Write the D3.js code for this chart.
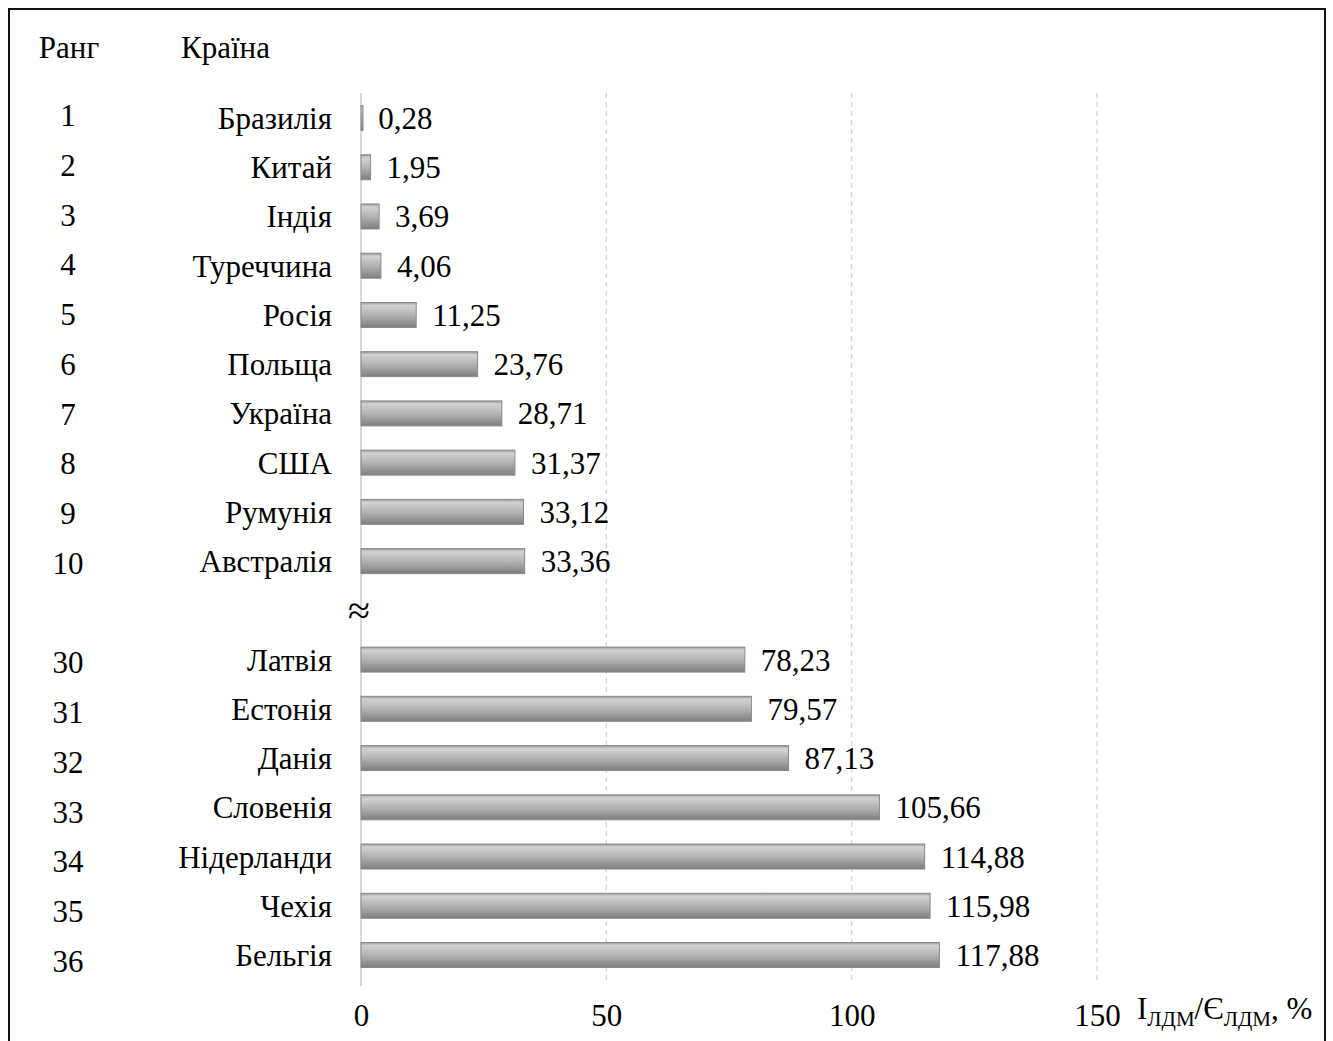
<!DOCTYPE html>
<html>
<head>
<meta charset="utf-8">
<script src="https://cdn.jsdelivr.net/npm/d3@7"></script>
<style>
  html, body { margin: 0; padding: 0; background: #fff; }
  svg { display: block; }
  svg text { font-family: 'Liberation Serif', 'Times New Roman', serif; }
  .lbl { font-size: 31px; fill: #000; }
</style>
</head>
<body>
<svg id="chart"></svg>
<script>
const ranks = [1, 2, 3, 4, 5, 6, 7, 8, 9, 10, null, 30, 31, 32, 33, 34, 35, 36];
const countries = ['Бразилія', 'Китай', 'Індія', 'Туреччина', 'Росія', 'Польща', 'Україна', 'США', 'Румунія', 'Австралія',
  null, 'Латвія', 'Естонія', 'Данія', 'Словенія', 'Нідерланди', 'Чехія', 'Бельгія'];
const values = [0.28, 1.95, 3.69, 4.06, 11.25, 23.76, 28.71, 31.37, 33.12, 33.36,
  null, 78.23, 79.57, 87.13, 105.66, 114.88, 115.98, 117.88];
const xTicks = [0, 50, 100, 150];

const width = 1333;
const height = 1041;

const svg = d3.select('#chart')
  .attr('width', width)
  .attr('height', height);

const slots = ranks.map((r, i) => i);
const rows = slots
  .filter(i => values[i] !== null)
  .map(i => ({ slot: i, rank: ranks[i], country: countries[i], value: values[i] }));

const x = d3.scaleLinear()
  .domain([0, 150])
  .range([361, 1097]);

// row centres for bars / country names
const y = d3.scalePoint()
  .domain(slots)
  .range([118, 955]);

// rank column sits on a slightly wider spacing
const yRank = d3.scalePoint()
  .domain(slots)
  .range([116, 962]);

const barH = 25;
const fmt = v => d3.format('.2f')(v).replace('.', ',');

// gradient for bars
const defs = svg.append('defs');
const grad = defs.append('linearGradient')
  .attr('id', 'barGrad')
  .attr('x1', 0).attr('y1', 0)
  .attr('x2', 0).attr('y2', 1);
grad.append('stop').attr('offset', '0%').attr('stop-color', '#9a9a9a');
grad.append('stop').attr('offset', '12%').attr('stop-color', '#d2d2d2');
grad.append('stop').attr('offset', '50%').attr('stop-color', '#b4b4b4');
grad.append('stop').attr('offset', '100%').attr('stop-color', '#7e7e7e');

// frame
svg.append('rect')
  .attr('x', 9)
  .attr('y', 9)
  .attr('width', 1316)
  .attr('height', 1060)
  .attr('fill', 'none')
  .attr('stroke', '#111')
  .attr('stroke-width', 2);

// grid lines
const gridTop = 93;
const gridBottom = 982;
svg.append('g')
  .selectAll('line')
  .data(xTicks.filter(d => d > 0))
  .enter().append('line')
    .attr('x1', d => x(d))
    .attr('x2', d => x(d))
    .attr('y1', gridTop)
    .attr('y2', gridBottom)
    .attr('stroke', '#d4d4d4')
    .attr('stroke-width', 1.3)
    .attr('stroke-dasharray', '5,4');

// zero axis line
svg.append('line')
  .attr('x1', x(0))
  .attr('x2', x(0))
  .attr('y1', gridTop)
  .attr('y2', gridBottom + 4)
  .attr('stroke', '#d9d9d9')
  .attr('stroke-width', 2);

// x axis labels
const xAxis = d3.axisBottom(x)
  .tickValues(xTicks)
  .tickSize(0)
  .tickPadding(0)
  .tickFormat(d3.format('d'));

const gx = svg.append('g')
  .attr('transform', 'translate(0, 1026)')
  .call(xAxis)
  .attr('font-family', null)
  .attr('font-size', null);
gx.select('.domain').remove();
gx.selectAll('text')
  .attr('class', 'lbl')
  .attr('fill', '#000')
  .attr('y', 0)
  .attr('dy', null);

// axis title with subscripts
const title = svg.append('text')
  .attr('class', 'lbl')
  .attr('x', 1137)
  .attr('y', 1019);
title.append('tspan').text('I');
title.append('tspan').attr('font-size', 21).attr('dy', 7).text('ЛДМ');
title.append('tspan').attr('dy', -7).text('/Є');
title.append('tspan').attr('font-size', 21).attr('dy', 7).text('ЛДМ');
title.append('tspan').attr('dy', -7).text(', %');

// headers
svg.append('text')
  .attr('class', 'lbl')
  .attr('x', 69)
  .attr('y', 58)
  .attr('text-anchor', 'middle')
  .text('Ранг');
svg.append('text')
  .attr('class', 'lbl')
  .attr('x', 181)
  .attr('y', 58)
  .text('Країна');

// bars
svg.append('g')
  .selectAll('rect')
  .data(rows)
  .enter().append('rect')
    .attr('x', x(0))
    .attr('y', d => y(d.slot) - barH / 2)
    .attr('width', d => Math.max(x(d.value) - x(0), 2))
    .attr('height', barH)
    .attr('fill', 'url(#barGrad)')
    .attr('stroke', '#8a8a8a')
    .attr('stroke-width', 1);

// value labels
svg.append('g')
  .selectAll('text')
  .data(rows)
  .enter().append('text')
    .attr('class', 'lbl')
    .attr('x', d => x(d.value) + 16)
    .attr('y', d => y(d.slot) + 11)
    .text(d => fmt(d.value));

// country labels
svg.append('g')
  .selectAll('text')
  .data(rows)
  .enter().append('text')
    .attr('class', 'lbl')
    .attr('x', 332)
    .attr('y', d => y(d.slot) + 11)
    .attr('text-anchor', 'end')
    .text(d => d.country);

// rank labels
svg.append('g')
  .selectAll('text')
  .data(rows)
  .enter().append('text')
    .attr('class', 'lbl')
    .attr('x', 68)
    .attr('y', d => yRank(d.slot) + 10)
    .attr('text-anchor', 'middle')
    .text(d => d.rank);

// break mark
const gapSlot = values.indexOf(null);
svg.append('text')
  .attr('class', 'lbl')
  .attr('x', x(0) - 2)
  .attr('y', y(gapSlot) + 14)
  .attr('text-anchor', 'middle')
  .attr('font-size', 40)
  .style('font-size', '40px')
  .text('≈');
</script>
</body>
</html>
